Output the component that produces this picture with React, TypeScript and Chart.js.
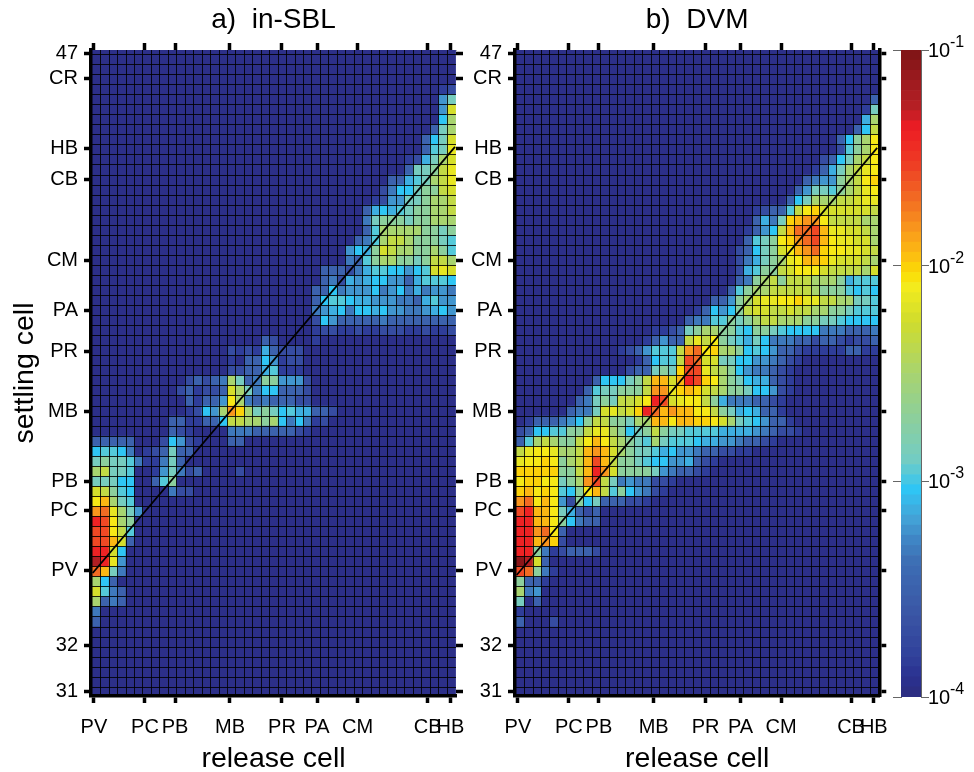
import React, { useEffect, useRef } from "react";
import { Chart, registerables } from "chart.js";

Chart.register(...registerables);

const FONT = "'Liberation Sans', Arial, sans-serif";

// Category ticks, in grid-cell units of each axis.
const X_LABELS = ["PV", "PC", "PB", "MB", "PR", "PA", "CM", "CB", "HB"];
const X_TICKS = [0.2, 6.24, 9.8, 16.3, 22.45, 26.6, 31.4, 39.7, 42.4];
const Y_LABELS = ["31", "32", "PV", "PC", "PB", "MB", "PR", "PA", "CM", "CB", "HB", "CR", "47"];
const Y_TICKS = [0.53, 5.11, 12.58, 18.56, 21.45, 28.5, 34.4, 38.5, 43.46, 51.6, 54.6, 61.6, 64.07];
const COLUMNS = 43;
const ROWS = 65;

// Colour-scale stops: position on the log10 colour axis (0 = 1e-4, 1 = 1e-1).
const STOP_POS = [0, 0.03, 0.062, 0.124, 0.21, 0.243, 0.278, 0.32, 0.366, 0.43, 0.5, 0.578, 0.635, 0.655, 0.68, 0.72, 0.77, 0.825, 0.88, 0.91, 1];
const STOP_RGB = [
  "2d2d7f", "2b3190", "30409b", "3a54a4", "3d6fb5", "3f86c5", "44a5d8", "2fc5f4", "73ccc3", "8ccf9c", "a8d46f",
  "cfdc2e", "f4ec1c", "fbdc04", "fcc010", "f99a1c", "f26b23", "ee3b24", "ed1c24", "b81f25", "7d1416",
];
const COLORBAR_LEVELS = 64;
const COLORBAR_TICKS = [1e-4, 1e-3, 1e-2, 1e-1];
const COLORBAR_EXPONENTS = ["-4", "-3", "-2", "-1"];

// A cell's letter is its reading on the colour axis, from LEVEL_POS by index.
const LEVEL_CODES = "0123456789abcdefghijklmn";
const LEVEL_POS = [
  0.015, 0.055, 0.1, 0.17, 0.225, 0.26, 0.29, 0.32, 0.345, 0.375, 0.43, 0.5, 0.55, 0.585, 0.615, 0.64, 0.665, 0.69,
  0.725, 0.77, 0.81, 0.87, 0.92, 0.98,
];

// [row from the top, first column, levels]; every other cell is level 0.
const IN_SBL_CELLS: [number, number, string][] = [
  [4, 41, "12"], [5, 41, "59"], [6, 41, "5d"], [7, 41, "7b"], [8, 40, "39b"], [9, 39, "379d"], [10, 39, "389e"],
  [11, 37, "1269bd"], [12, 37, "399ace"], [13, 35, "33689bce"], [14, 34, "24779aacd"], [15, 33, "125599abbc"],
  [16, 32, "367689aabbc"], [17, 32, "49aaa9aabbb"], [18, 32, "38bbbbbaa9a"], [19, 31, "348bccbaaa98"],
  [20, 30, "576adcbbaaba8"], [21, 30, "438abbaa9accb"], [22, 27, "3332468877578ded"], [23, 27, "3426567755368887"],
  [24, 26, "33745557457464554"], [25, 26, "37887665554436855"], [26, 26, "45674776755445675"],
  [27, 26, "27533333433333333"], [28, 26, "12211211222112112"], [29, 20, "32"], [29, 26, "1"],
  [30, 16, "212163222"], [31, 16, "103375122"], [32, 16, "223368111"], [33, 11, "23234b934aa5552"],
  [34, 10, "231223db94773332"], [35, 11, "31335fb43433322"], [36, 11, "1275bigb9a97866332"],
  [37, 9, "3311337ccbbab747412"], [38, 9, "321"], [38, 16, "4443333321"], [39, 0, "33333"], [39, 8, "27521"],
  [39, 16, "33"], [40, 0, "78874"], [40, 6, "123933"], [41, 0, "9a998411493"], [42, 0, "bc99800159423"], [42, 17, "2"],
  [43, 0, "99977"], [43, 7, "38a"], [44, 0, "dca87"], [44, 9, "422"], [45, 0, "fhb98"], [46, 0, "ijeb95"],
  [47, 0, "lkfba"], [48, 0, "kkfc8"], [49, 0, "kkhd3"], [50, 0, "lld7"], [51, 0, "mle5"], [52, 0, "jh94"],
  [53, 0, "b73"], [54, 0, "d843"], [55, 0, "b343"], [56, 0, "4"], [57, 0, "3"],
];

const DVM_CELLS: [number, number, string][] = [
  [5, 42, "3"], [6, 41, "19"], [7, 41, "6b"], [8, 40, "37c"], [9, 38, "37abf"], [10, 38, "28abf"], [11, 36, "2379bcf"],
  [12, 35, "1369bcef"], [13, 34, "3455abcfg"], [14, 33, "35998abcef"], [15, 32, "379bbbccdee"],
  [16, 28, "12338cfgddddddc"], [17, 28, "3649ghiifccccbb"], [18, 27, "1357chjjkheeddcb"], [19, 27, "389afgijkhfeeddb"],
  [20, 26, "2379adfhijgffeedc"], [21, 26, "2469abefhhgedddcb"], [22, 26, "268aacdfffdccccbd"],
  [23, 26, "34abcacccbbba6888"], [24, 25, "38abbcccccbaaa8787"], [25, 23, "335abdeeffgeeccbb998"],
  [26, 21, "13757acddccdccbbaa9888"], [27, 20, "34488a9abccbbbaa9987777"], [28, 16, "11239abbaa87aa9877774443334"],
  [29, 15, "13533cecfa986974443323321223"], [30, 12, "1235888cijfgbba7875332111113311"],
  [31, 14, "13788ckjdd9977554321"], [32, 13, "2339a9gkkecba7544321"], [33, 9, "37779achhdhlkgfba9766321"],
  [34, 8, "3899aaaciieghgdcbaa977521"], [35, 7, "349a9ccdflkdeffca64443321"], [36, 6, "3449decdgljhihhffca9676331"],
  [37, 0, "01333457accaa9bbhhfhhggfdb9875331"], [38, 0, "237788aaceeba79aca9988886666543221"],
  [39, 0, "38bcbaacfhfcba98b98887665543321"], [40, 0, "ceffebbchihdba99867554332211"],
  [41, 0, "effgfabchkhcaa9877556321"], [42, 0, "gggggaachlidaaaa9543321"],
  [43, 0, "fggff9abikc94544221"], [44, 0, "ghfgf87afhc8a75421"], [45, 0, "ijfhf52a79333221"], [46, 0, "klhhf96323"],
  [47, 0, "llhhfa7433"], [48, 0, "llijf3"], [49, 0, "llhig2"], [50, 0, "lla4123332"], [51, 0, "nmd3"], [52, 0, "kja41"],
  [53, 0, "a331"], [54, 0, "b45"], [55, 0, "903"], [56, 0, "1"], [57, 0, "3"], [57, 4, "2"],
];

// Ends of the diagonal (release cell = settling cell), in grid-cell units.
const DIAGONAL_A = [{ x: 0.05, y: 12.38 }, { x: 42.93, y: 54.8 }];
const DIAGONAL_B = [{ x: 0.05, y: 12.18 }, { x: 42.8, y: 54.7 }];

function hexToRgb(h: string) {
  return [0, 2, 4].map((i) => parseInt(h.slice(i, i + 2), 16));
}

function colorAt(t: number) {
  let i = 0;
  while (i < STOP_POS.length - 2 && t > STOP_POS[i + 1]) i++;
  const f = Math.min(1, Math.max(0, (t - STOP_POS[i]) / (STOP_POS[i + 1] - STOP_POS[i])));
  const a = hexToRgb(STOP_RGB[i]);
  const b = hexToRgb(STOP_RGB[i + 1]);
  return `rgb(${a.map((v, k) => Math.round(v + (b[k] - v) * f)).join(",")})`;
}

function cellColors(cells: [number, number, string][]) {
  const grid: string[][] = [];
  for (let r = 0; r < ROWS; r++) grid.push(new Array(COLUMNS).fill(colorAt(LEVEL_POS[0])));
  for (const [row, col, levels] of cells) {
    [...levels].forEach((ch, i) => {
      grid[row][col + i] = colorAt(LEVEL_POS[LEVEL_CODES.indexOf(ch)]);
    });
  }
  return grid;
}

function integerRange(from: number, to: number) {
  const out: number[] = [];
  for (let i = from; i <= to; i++) out.push(i);
  return out;
}

const X_RANGE = { min: -0.15, max: 43.05 };
const Y_RANGE = { min: 0.13, max: 64.45 };

function setTicks(values: number[]) {
  return (scale: any) => {
    scale.ticks = values.map((value) => ({ value }));
  };
}

function fixedWidth(width: number) {
  return (scale: any) => {
    scale.width = width;
  };
}

function fixedHeight(height: number) {
  return (scale: any) => {
    scale.height = height;
  };
}

const tickMarks = {
  display: true,
  drawOnChartArea: false,
  drawTicks: true,
  tickLength: 7,
  tickWidth: 3.5,
  tickColor: "#000",
  offset: false,
};

const tickFont = { family: FONT, size: 20 };
const axisTitleFont = { family: FONT, size: 28.5 };

function panelConfig(p: {
  title: string;
  cells: [number, number, string][];
  diagonal: { x: number; y: number }[];
  leftWidth: number;
  rightWidth: number;
  rightBorder: number;
  yTitle?: string;
}) {
  const colors = cellColors(p.cells);
  const datasets: any[] = [];
  for (let r = ROWS - 1; r >= 0; r--) {
    datasets.push({
      type: "bar",
      data: integerRange(0, COLUMNS - 1).map((c) => ({ x: c + 0.5, y: 1 })),
      backgroundColor: colors[r],
      borderWidth: 0,
      barPercentage: 1,
      categoryPercentage: 1,
      xAxisID: "x",
      yAxisID: "y",
    });
  }
  datasets.push({
    type: "line",
    data: p.diagonal,
    borderColor: "#000",
    borderWidth: 1.8,
    pointRadius: 0,
    order: -1,
    xAxisID: "x",
    yAxisID: "y",
  });

  const hiddenTicks = { display: false };
  const gridLines = {
    display: true,
    drawTicks: false,
    color: "rgba(0,0,0,0.85)",
    lineWidth: 1,
    z: 1,
    offset: false,
  };

  return {
    type: "bar",
    data: { datasets },
    options: {
      responsive: false,
      animation: false,
      events: [],
      layout: { padding: 0 },
      plugins: {
        legend: { display: false },
        tooltip: { enabled: false },
        title: {
          display: true,
          text: p.title,
          fullSize: false,
          color: "#000",
          font: { family: FONT, size: 28, weight: "normal" },
          padding: { top: 3, bottom: 0 },
        },
      },
      scales: {
        x: {
          type: "linear",
          position: "bottom",
          stacked: true,
          offset: false,
          ...X_RANGE,
          afterBuildTicks: setTicks(X_TICKS),
          afterFit: fixedHeight(76),
          border: { display: true, color: "#000", width: 3.5, z: 2 },
          grid: tickMarks,
          ticks: {
            autoSkip: false,
            maxRotation: 0,
            padding: 12,
            color: "#000",
            font: tickFont,
            callback: (_v: number, i: number) => X_LABELS[i],
          },
          title: {
            display: true,
            text: "release cell",
            color: "#000",
            font: axisTitleFont,
            padding: { top: 0, bottom: -4 },
          },
        },
        xt: {
          type: "linear",
          position: "top",
          offset: false,
          ...X_RANGE,
          afterBuildTicks: setTicks(X_TICKS),
          afterFit: fixedHeight(50 - 36.6),
          border: { display: true, color: "#b0b0b0", width: 1 },
          grid: tickMarks,
          ticks: hiddenTicks,
        },
        xg: {
          type: "linear",
          position: "bottom",
          offset: false,
          ...X_RANGE,
          afterBuildTicks: setTicks(integerRange(1, 42)),
          afterFit: fixedHeight(0),
          border: { display: false },
          grid: gridLines,
          ticks: hiddenTicks,
        },
        y: {
          type: "linear",
          position: "left",
          stacked: true,
          ...Y_RANGE,
          afterBuildTicks: setTicks(Y_TICKS),
          afterFit: fixedWidth(p.leftWidth),
          border: { display: true, color: "#000", width: 3.5, z: 2 },
          grid: tickMarks,
          ticks: {
            autoSkip: false,
            padding: 6,
            color: "#000",
            font: tickFont,
            callback: (_v: number, i: number) => Y_LABELS[i],
          },
          title: p.yTitle
            ? { display: true, text: p.yTitle, color: "#000", font: axisTitleFont, padding: { top: 8, bottom: 0 } }
            : { display: false },
        },
        yr: {
          type: "linear",
          position: "right",
          ...Y_RANGE,
          afterBuildTicks: setTicks(Y_TICKS),
          afterFit: fixedWidth(p.rightWidth),
          border: { display: p.rightBorder > 0, color: "#000", width: p.rightBorder, z: 2 },
          grid: tickMarks,
          ticks: hiddenTicks,
        },
        yg: {
          type: "linear",
          position: "left",
          ...Y_RANGE,
          afterBuildTicks: setTicks(integerRange(1, 64)),
          afterFit: fixedWidth(0),
          border: { display: false },
          grid: gridLines,
          ticks: hiddenTicks,
        },
      },
    },
  } as any;
}

const colorbarLabels = {
  id: "colorbarLabels",
  afterDraw(chart: any) {
    const { ctx, scales, chartArea } = chart;
    ctx.save();
    ctx.fillStyle = "#000";
    ctx.textAlign = "left";
    ctx.textBaseline = "alphabetic";
    COLORBAR_TICKS.forEach((value, i) => {
      const y = scales.y.getPixelForValue(value);
      const x = chartArea.right + 7;
      ctx.font = `20px ${FONT}`;
      ctx.fillText("10", x, y + 7);
      ctx.font = `16px ${FONT}`;
      ctx.fillText(COLORBAR_EXPONENTS[i], x + 22, y - 3);
    });
    ctx.restore();
  },
};

function colorbarConfig() {
  const datasets = integerRange(0, COLORBAR_LEVELS - 1).map((i) => {
    const lo = -4 + (3 * i) / COLORBAR_LEVELS;
    const hi = -4 + (3 * (i + 1)) / COLORBAR_LEVELS;
    return {
      data: [[Math.pow(10, lo), Math.pow(10, hi)]],
      backgroundColor: colorAt((i + 0.5) / COLORBAR_LEVELS),
      borderWidth: 0,
      barPercentage: 1,
      categoryPercentage: 1,
    };
  });
  const marks = {
    display: true,
    drawOnChartArea: false,
    drawTicks: true,
    tickLength: 8,
    tickWidth: 1,
    tickColor: "#666",
  };
  return {
    type: "bar",
    data: { labels: ["scale"], datasets },
    plugins: [colorbarLabels],
    options: {
      responsive: false,
      animation: false,
      events: [],
      layout: { padding: { top: 50, bottom: 75 } },
      plugins: { legend: { display: false }, tooltip: { enabled: false } },
      scales: {
        x: { stacked: true, display: false },
        y: {
          type: "logarithmic",
          position: "left",
          min: 1e-4,
          max: 1e-1,
          afterBuildTicks: setTicks(COLORBAR_TICKS),
          afterFit: fixedWidth(16),
          border: { display: true, color: "#666", width: 1 },
          grid: marks,
          ticks: { display: false },
        },
        yr: {
          type: "logarithmic",
          position: "right",
          min: 1e-4,
          max: 1e-1,
          afterBuildTicks: setTicks(COLORBAR_TICKS),
          afterFit: fixedWidth(53),
          border: { display: true, color: "#666", width: 1 },
          grid: marks,
          ticks: { display: false },
        },
      },
    },
  } as any;
}

export default function App() {
  const a = useRef<HTMLCanvasElement>(null);
  const b = useRef<HTMLCanvasElement>(null);
  const c = useRef<HTMLCanvasElement>(null);

  useEffect(() => {
    const charts = [
      new Chart(
        a.current as HTMLCanvasElement,
        panelConfig({
          title: "a)  in-SBL",
          cells: IN_SBL_CELLS,
          diagonal: DIAGONAL_A,
          leftWidth: 91,
          rightWidth: 494 - 456,
          rightBorder: 0,
          yTitle: "settling cell",
        })
      ),
      new Chart(
        b.current as HTMLCanvasElement,
        panelConfig({
          title: "b)  DVM",
          cells: DVM_CELLS,
          diagonal: DIAGONAL_B,
          leftWidth: 53,
          rightWidth: 438 - 418,
          rightBorder: 3.5,
        })
      ),
      new Chart(c.current as HTMLCanvasElement, colorbarConfig()),
    ];
    return () => charts.forEach((chart) => chart.destroy());
  }, []);

  const at = (left: number): React.CSSProperties => ({ position: "absolute", left, top: 0 });
  return (
    <div style={{ position: "fixed", left: 0, top: 0, width: 974, height: 772, background: "#fff", overflow: "hidden" }}>
      <canvas ref={a} width={494} height={772} style={at(0)} />
      <canvas ref={b} width={438} height={772} style={at(462)} />
      <canvas ref={c} width={89} height={772} style={at(885)} />
    </div>
  );
}
